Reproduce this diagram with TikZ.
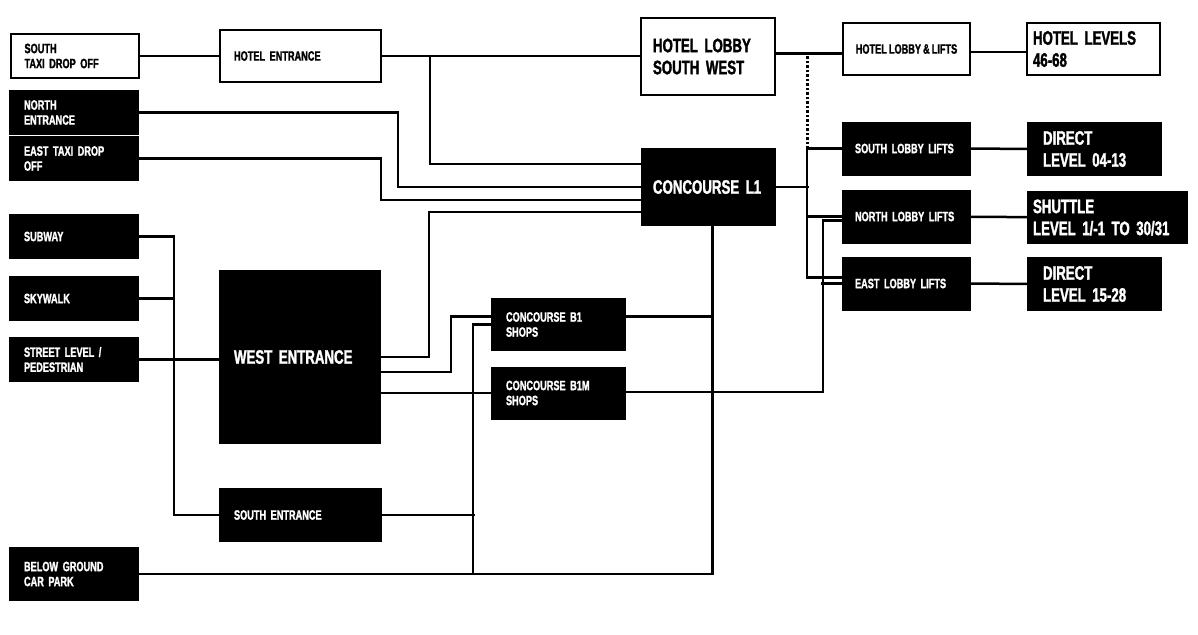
\documentclass[tikz,border=0pt]{standalone}
\usepackage{fontspec}
\setmainfont{Liberation Sans Bold}[FakeStretch=0.68,FakeBold=1.5,WordSpace=0.8]
\usepackage{tikz}

\begin{document}
\begin{tikzpicture}[x=1pt,y=-1pt,
  wbox/.style={rectangle,draw,line width=2pt,fill=white,align=left,inner xsep=14pt},
  bbox/.style={rectangle,draw,line width=2pt,fill=black,text=white,align=left,inner xsep=14pt},
  sm/.style={font=\fontsize{13.5pt}{15pt}\selectfont},
  bg/.style={font=\fontsize{19.5pt}{22pt}\selectfont},
  lcol/.style={text width=100pt,minimum height=43pt},
  mcol/.style={text width=133pt,minimum height=52pt},
  shop/.style={text width=105pt,minimum height=51pt},
  lift/.style={inner xsep=12pt,text width=103pt,minimum height=52pt},
  dest/.style={inner xsep=15pt,text width=103pt,minimum height=52pt},
  link/.style={line width=2.5pt}]

 \useasboundingbox (0,0) rectangle (1198,634);

 \node at (74.5,56) [wbox,sm,lcol,minimum height=44pt] (staxi) {SOUTH\\TAXI DROP OFF};
 \node at (300.5,56) [wbox,sm,mcol] (hotelent) {HOTEL ENTRANCE};
 \node at (74,112.5) [bbox,sm,lcol] (northent) {NORTH\\ENTRANCE};
 \node at (74,158.5) [bbox,sm,lcol] (etaxi) {EAST TAXI DROP\\OFF};
 \node at (74,236.5) [bbox,sm,lcol] (subway) {SUBWAY};
 \node at (74,298.5) [bbox,sm,lcol] (skywalk) {SKYWALK};
 \node at (74,359.5) [bbox,sm,lcol] (street) {STREET LEVEL /\\PEDESTRIAN};
 \node at (300,357) [bbox,bg,text width=132pt,minimum height=172pt] (westent) {WEST ENTRANCE};
 \node at (300.5,515) [bbox,sm,mcol] (southent) {SOUTH ENTRANCE};
 \node at (74,574) [bbox,sm,lcol,minimum height=52pt] (carpark) {BELOW GROUND\\CAR PARK};

 \node at (558.5,324.5) [bbox,sm,shop] (concb1) {CONCOURSE B1\\SHOPS};
 \node at (558.5,393) [bbox,sm,shop] (concb1m) {CONCOURSE B1M\\SHOPS};
 \node at (708.5,187) [bbox,bg,inner xsep=11pt,text width=111pt,minimum height=76pt] (concl1) {CONCOURSE L1};
 \node at (708,56.5) [wbox,bg,inner xsep=12pt,text width=110pt,minimum height=77pt] (hotellobby) {HOTEL LOBBY\\SOUTH WEST};

 \node at (906.5,49) [wbox,sm,inner xsep=4pt,minimum width=127pt,minimum height=52pt] (hotellifts) {HOTEL LOBBY \& LIFTS};
 \node at (1093.5,49) [wbox,bg,inner xsep=6pt,text width=121pt,minimum height=52pt] (hotellevels) {HOTEL LEVELS\\46-68};
 \node at (906.5,148.5) [bbox,sm,lift] (southlifts) {SOUTH LOBBY LIFTS};
 \node at (1094.5,149) [bbox,bg,dest] (direct1) {DIRECT\\LEVEL 04-13};
 \node at (906.5,216.5) [bbox,sm,lift] (northlifts) {NORTH LOBBY LIFTS};
 \node at (1107.5,217.5) [bbox,bg,inner xsep=5pt,text width=149pt,minimum height=51pt] (shuttle) {SHUTTLE\\LEVEL 1/-1 TO 30/31};
 \node at (906.5,283.5) [bbox,sm,lift] (eastlifts) {EAST LOBBY LIFTS};
 \node at (1094.5,284) [bbox,bg,dest] (direct2) {DIRECT\\LEVEL 15-28};

 \draw[link] (staxi)--(hotelent);
 \draw[link] (hotelent.east)--(hotelent.east -| hotellobby.west);
 \draw[link] (hotelent.east)--++(48,0) |- ([yshift=23pt]concl1.west);
 \draw[link] (northent.east)--++(259,0) |- (concl1.west);
 \draw[link] (etaxi.east)--++(242,0) |- ([yshift=-13pt]concl1.west);
 \draw[link] (westent.east)--++(48,0) |- ([yshift=-25pt]concl1.west);
 \draw[link] ([yshift=-15pt]westent.east)--++(70,0) |- ([yshift=8pt]concb1.west);
 \draw[link] (concb1m.west -| westent.east)--(concb1m.west);
 \draw[link] (street.east)--(westent.west |- street.east);
 \draw[link] (subway.east)--++(35,0) |- (southent.west);
 \draw[link] (skywalk.east)--++(35,0);
 \draw[link] (concb1.west)--++(-18,0) |- (carpark.east);
 \draw[link] (southent.east)--++(93,0);
 \draw[link] ([xshift=4pt]concl1.south) |- (carpark.east);
 \draw[link] ([yshift=8pt]concb1.east)--++(87,0);
 \draw[link] ([yshift=1pt]concb1m.east)--++(197,0) |- ([yshift=-4pt]northlifts.west);
 \draw[link] (eastlifts.west)--++(-21,0);

 \draw[link] (concl1.east)--++(33,0);
 \draw[link] (southlifts.west)--++(-35,0) |- ([yshift=6pt]eastlifts.west);
 \draw[link] (northlifts.west)--++(-35,0);
 \draw[line width=3pt,dash pattern=on 2.5pt off 2pt] (southlifts.west)++(-35,0)--++(0,-95);
 \draw[link] ([yshift=3pt]hotellobby.east)--([yshift=3pt]hotellobby.east -| hotellifts.west);
 \draw[link] ([yshift=-3pt]hotellifts.east)--([yshift=-3pt]hotellevels.west);
 \draw[link] (southlifts)--(direct1);
 \draw[link] (northlifts)--(shuttle);
 \draw[link] (eastlifts)--(direct2);
\end{tikzpicture}
\end{document}
